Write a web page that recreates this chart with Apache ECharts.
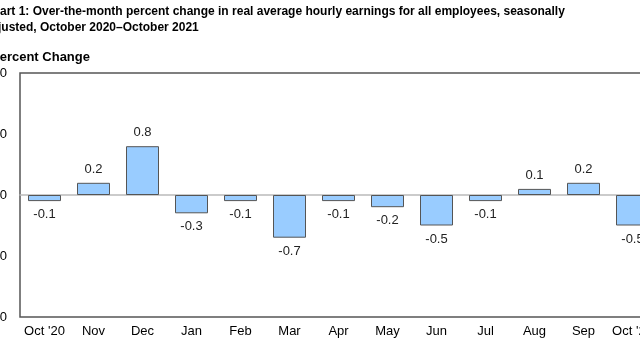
<!DOCTYPE html>
<html><head><meta charset="utf-8">
<script src="https://cdn.jsdelivr.net/npm/echarts@6/dist/echarts.min.js"></script>
<style>html,body{margin:0;padding:0;background:#fff}#c{width:640px;height:360px}</style>
</head><body><div id="c"></div>
<script>
const categories = ["Oct '20","Nov","Dec","Jan","Feb","Mar","Apr","May","Jun","Jul","Aug","Sep","Oct '21"];
const values = [-0.1, 0.2, 0.8, -0.3, -0.1, -0.7, -0.1, -0.2, -0.5, -0.1, 0.1, 0.2, -0.5];
const titleText = "Chart 1: Over-the-month percent change in real average hourly earnings for all employees, seasonally\nadjusted, October 2020\u2013October 2021";
const yAxisTitle = "Percent Change";

const chart = echarts.init(document.getElementById('c'));
const FONT = 'Liberation Sans, Arial, sans-serif';
chart.setOption({
  animation: false,
  title: {
    text: titleText, left: -16, top: 4, padding: 0,
    textStyle: { fontFamily: FONT, fontSize: 12, fontWeight: 'bold', color: '#000', lineHeight: 16 }
  },
  graphic: [{
    type: 'text', left: -9, top: 51,
    style: { text: yAxisTitle, font: 'bold 13px ' + FONT, fill: '#000' }
  }],
  grid: { left: 20, top: 73, width: 637, height: 244, show: true, borderColor: '#555', borderWidth: 1.5, backgroundColor: 'transparent', containLabel: false, outerBoundsMode: 'none' },
  xAxis: [{
    type: 'category', data: categories, position: 'top',
    axisLine: { onZero: true, lineStyle: { color: '#bbb', width: 1.5 } },
    axisTick: { inside: true, length: 4, lineStyle: { color: '#aaa' } },
    axisLabel: { show: false }
  }, {
    type: 'category', data: categories, position: 'bottom',
    axisLine: { show: false, onZero: false }, axisTick: { show: false },
    axisLabel: { interval: 0, margin: 8, fontFamily: FONT, fontSize: 13, color: '#000', hideOverlap: false }
  }],
  yAxis: {
    type: 'value', min: -2, max: 2, interval: 1,
    splitLine: { show: false }, axisLine: { show: false }, axisTick: { show: false },
    axisLabel: { margin: 13, fontFamily: FONT, fontSize: 13, color: '#000', formatter: v => v.toFixed(1) }
  },
  series: [{
    type: 'bar', xAxisIndex: 0, barWidth: 33,
    data: values.map(v => ({ value: v, label: { position: v >= 0 ? 'top' : 'bottom' } })),
    itemStyle: { color: '#99ccff', borderColor: '#555', borderWidth: 1 },
    label: { show: true, distance: 7, fontFamily: FONT, fontSize: 13, color: '#222', formatter: p => p.value.toFixed(1) }
  }]
});
</script></body></html>
